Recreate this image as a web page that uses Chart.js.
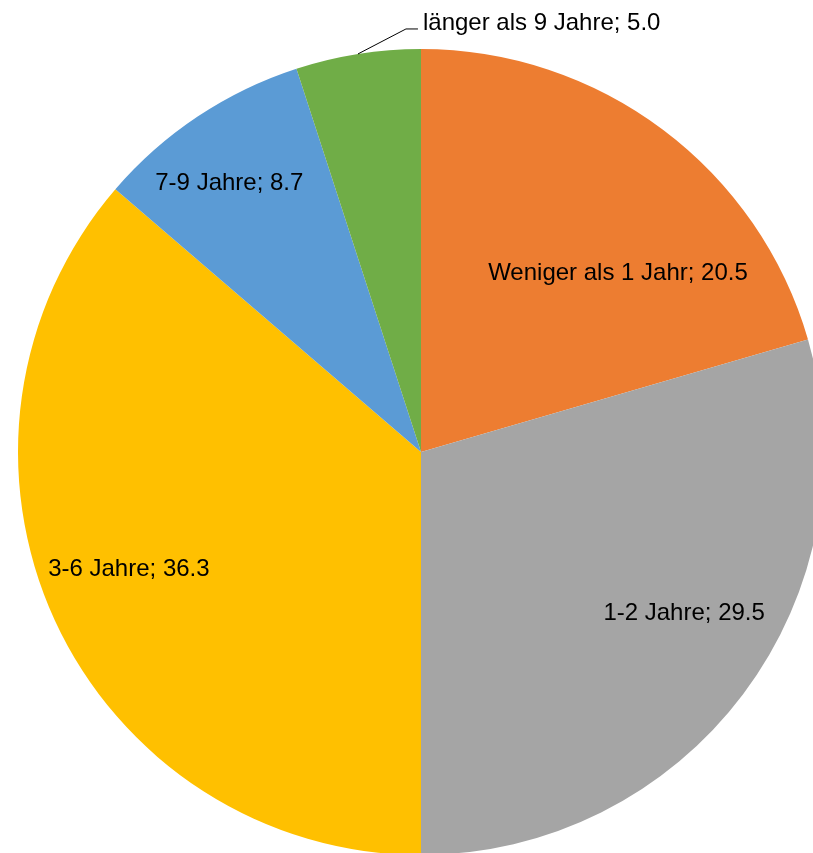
<!DOCTYPE html>
<html>
<head>
<meta charset="utf-8">
<script src="https://cdn.jsdelivr.net/npm/chart.js@4.4.0/dist/chart.umd.min.js"></script>
<style>
    html, body { margin: 0; padding: 0; background: #ffffff; overflow: hidden; }
    #wrap { width: 813px; height: 853px; overflow: hidden; position: relative; }
</style>
</head>
<body>
<div id="wrap">
    <canvas id="myChart" width="830" height="860"></canvas>
</div>
<script>
// Kategorien und Werte (Anteil in %)
const categories = ["Weniger als 1 Jahr", "1-2 Jahre", "3-6 Jahre", "7-9 Jahre", "länger als 9 Jahre"];
const shares = [20.5, 29.5, 36.3, 8.7, 5.0];
const sliceColors = ["#ED7D31", "#A5A5A5", "#FFC000", "#5B9BD5", "#70AD47"];

const labelFont = '24px "Liberation Sans", Arial, sans-serif';

// Verschiebung der Beschriftung relativ zur Segmentmitte (px); null = außen mit Führungslinie
const labelNudge = [[76, -17], [102, 40], [-109, 33], [-80, -101], null];

const pieLabels = {
    id: 'pieLabels',
    afterDatasetsDraw(chart) {
        const ctx = chart.ctx;
        const meta = chart.getDatasetMeta(0);
        ctx.save();
        ctx.font = labelFont;
        ctx.fillStyle = '#000000';
        ctx.textBaseline = 'middle';

        meta.data.forEach(function(arc, i) {
            const text = categories[i] + '; ' + shares[i].toFixed(1);
            const nudge = labelNudge[i];
            if (nudge) {
                const pos = arc.tooltipPosition();
                ctx.textAlign = 'center';
                ctx.fillText(text, pos.x + nudge[0], pos.y + nudge[1]);
            } else {
                // Außenbeschriftung mit Führungslinie
                const p = arc.getProps(['x', 'y', 'startAngle', 'endAngle', 'outerRadius'], true);
                const mid = (p.startAngle + p.endAngle) / 2;
                const sx = p.x + Math.cos(mid) * p.outerRadius;
                const sy = p.y + Math.sin(mid) * p.outerRadius;
                const ex = sx + 48, ey = sy - 25;
                ctx.strokeStyle = '#000000';
                ctx.lineWidth = 1;
                ctx.beginPath();
                ctx.moveTo(sx, sy);
                ctx.lineTo(ex, ey);
                ctx.lineTo(ex + 12, ey);
                ctx.stroke();
                ctx.textAlign = 'left';
                ctx.fillText(text, ex + 17, ey - 6);
            }
        });
        ctx.restore();
    }
};

const ctx = document.getElementById('myChart').getContext('2d');
const myChart = new Chart(ctx, {
    type: 'pie',
    data: {
        labels: categories,
        datasets: [{
            data: shares,
            backgroundColor: sliceColors,
            borderWidth: 0
        }]
    },
    options: {
        responsive: false,
        animation: false,
        layout: {
            padding: { left: 18, right: 6, top: 49, bottom: 5 }
        },
        plugins: {
            legend: { display: false },
            tooltip: { enabled: false }
        }
    },
    plugins: [pieLabels]
});
</script>
</body>
</html>
